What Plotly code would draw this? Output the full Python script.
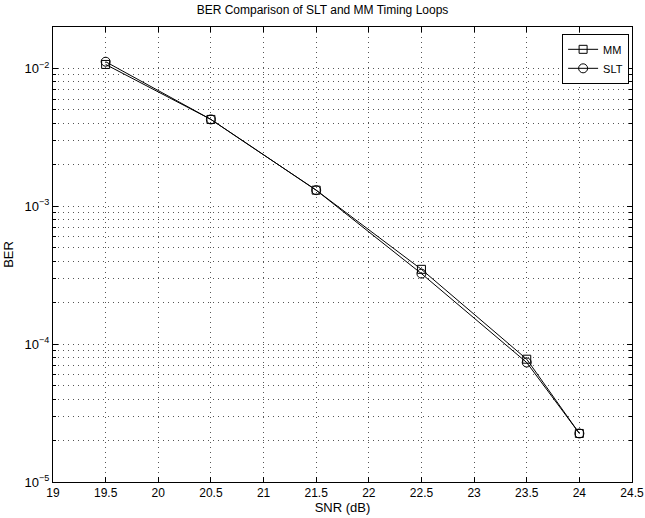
import plotly.graph_objects as go

snr = [19.5, 20.5, 21.5, 22.5, 23.5, 24]
ber_mm = [1.07e-2, 4.27e-3, 1.31e-3, 3.49e-4, 7.78e-5, 2.25e-5]
ber_slt = [1.12e-2, 4.27e-3, 1.31e-3, 3.25e-4, 7.36e-5, 2.25e-5]
x_ticks = [19, 19.5, 20, 20.5, 21, 21.5, 22, 22.5, 23, 23.5, 24, 24.5]
decades = [-5, -4, -3, -2]

FONT = "Liberation Sans, Arial, Helvetica, sans-serif"

major_vals = [10.0 ** d for d in decades]
major_text = [f"10<sup>\u2212{-d}</sup>" for d in decades]
minor_vals = []
for d in decades:
    for m in range(2, 10):
        v = m * 10.0 ** d
        if v <= 0.0201:
            minor_vals.append(v)

GRID = dict(showgrid=True, gridcolor="#555", griddash="1px,4px", gridwidth=1)

fig = go.Figure()
fig.add_trace(go.Scatter(x=snr, y=ber_mm, name="MM", mode="lines+markers",
                         line=dict(color="black", width=1),
                         marker=dict(symbol="square-open", size=8, color="black", line=dict(width=1))))
fig.add_trace(go.Scatter(x=snr, y=ber_slt, name="SLT", mode="lines+markers",
                         line=dict(color="black", width=1),
                         marker=dict(symbol="circle-open", size=9, color="black", line=dict(width=1))))

fig.update_layout(
    width=645, height=518,
    margin=dict(l=53, r=13, t=27, b=36),
    paper_bgcolor="white", plot_bgcolor="white",
    font=dict(family=FONT, size=12, color="black"),
    title=dict(text="BER Comparison of SLT and MM Timing Loops", x=0.5, xanchor="center",
               y=1 - 10 / 518, yanchor="middle", font=dict(size=12)),
    showlegend=True,
    legend=dict(x=0.995, y=0.985, xanchor="right", yanchor="top",
                bordercolor="black", borderwidth=1, bgcolor="white",
                font=dict(size=11), tracegroupgap=0, itemwidth=30),
    xaxis=dict(range=[19, 24.5], tickvals=x_ticks, ticktext=[f"{v:g}" for v in x_ticks],
               **GRID, automargin=False,
               ticks="inside", ticklen=5, tickcolor="black", mirror="allticks",
               showline=True, linecolor="black", linewidth=1, zeroline=False,
               title=dict(text="SNR (dB)", standoff=3, font=dict(size=13)),
               tickfont=dict(size=12)),
    yaxis=dict(type="log", range=[-5, 0.30103 - 2], tickvals=major_vals, ticktext=major_text,
               **GRID, automargin=False,
               ticks="inside", ticklen=5, tickcolor="black", mirror="allticks",
               showline=True, linecolor="black", linewidth=1, zeroline=False,
               minor=dict(tickmode="array", tickvals=minor_vals, ticks="inside", ticklen=3,
                          tickcolor="black", **GRID),
               title=dict(text="BER", standoff=8, font=dict(size=13)),
               tickfont=dict(size=13)),
)

fig.write_html("out.html", config={"displayModeBar": False},
               post_script="document.body.style.margin='0';document.body.style.padding='0';")
